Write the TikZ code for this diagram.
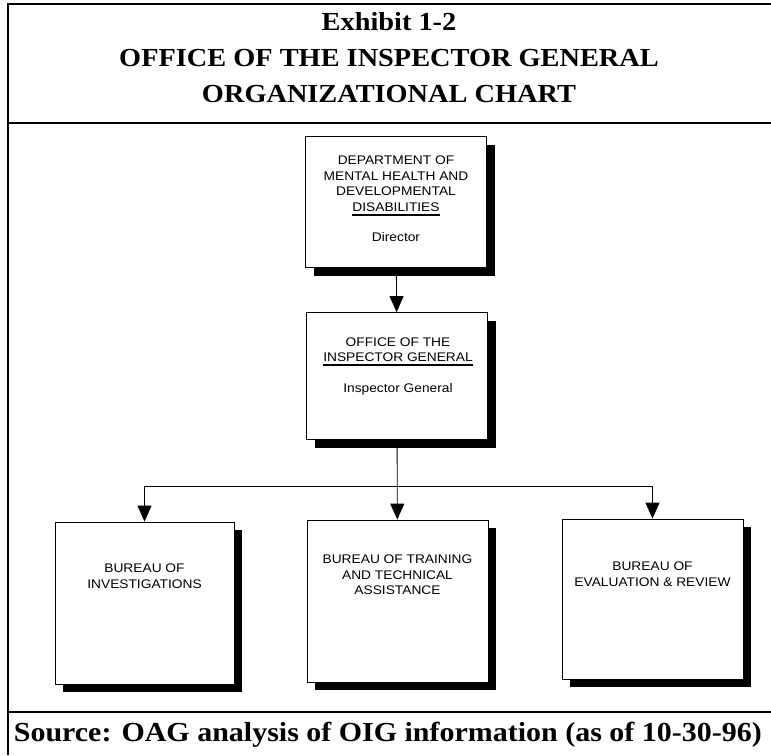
\documentclass[tikz,border=0pt]{standalone}
\usepackage{fontspec}
\setmainfont{Liberation Serif}
\setsansfont{Liberation Sans}
\usetikzlibrary{arrows.meta}
\usetikzlibrary{shadows}
\usetikzlibrary{calc}

% thick rule under one line of a box text
\newcommand{\barline}[1]{\vtop{\hbox{#1}\kern2.5pt\hrule height 1.6pt}}

\begin{document}
\begin{tikzpicture}[x=1pt, y=-1pt,
  unitbox/.style={draw=black, line width=0.8pt, fill=white, minimum width=181pt, drop shadow={shadow xshift=8pt, shadow yshift=-8pt, fill=black, opacity=1}},
  unittext/.style={align=center, xscale=1.1, font=\sffamily\fontsize{12.5}{15.5}\selectfont},
  frameline/.style={line width=1.6pt},
  link/.style={line width=0.9pt, -{Triangle[width=14pt, length=16pt]}}]

\useasboundingbox (0,0) rectangle (771,755);

% frame
\draw[frameline] (771,4) -- (8,4) -- (8,755);
\draw[frameline] (8,123) -- (771,123);
\draw[frameline] (8,712) -- (771,712);

\node[align=center, xscale=1.09, font=\bfseries\fontsize{26}{36}\selectfont] (title) at (389,58) {Exhibit 1-2\\OFFICE OF THE INSPECTOR GENERAL\\ORGANIZATIONAL CHART};

\node[anchor=west, xscale=1.09, font=\bfseries\fontsize{27.5}{30}\selectfont] (source) at (10,735) {Source: OAG analysis of OIG information (as of 10-30-96)};

% boxes
\node[unitbox, minimum height=131pt] (dept) at (396,202) {};
\node[unittext] (depttext) at (396,199) {DEPARTMENT OF\\MENTAL HEALTH AND\\DEVELOPMENTAL\\\barline{DISABILITIES}\\[15pt]Director};

\node[unitbox, minimum height=127pt] (oig) at (397,376) {};
\node[unittext] (oigtext) at (398,366) {OFFICE OF THE\\\barline{INSPECTOR GENERAL}\\[15pt]Inspector General};

\node[unitbox, minimum width=179pt, minimum height=162pt] (invest) at (144.5,603) {};
\node[unittext] (investtext) at (144.5,576) {BUREAU OF\\INVESTIGATIONS};

\node[unitbox, minimum height=162pt] (training) at (397.5,601) {};
\node[unittext] (trainingtext) at (397.5,575) {BUREAU OF TRAINING\\AND TECHNICAL\\ASSISTANCE};

\node[unitbox, minimum height=160pt] (review) at (652.5,599) {};
\node[unittext] (reviewtext) at (652.5,574) {BUREAU OF\\EVALUATION \& REVIEW};

% connectors
\coordinate (split) at (397,486);
\draw[link] (dept) -- (oig);
\draw[link] (oig) -- (training);
\draw[line width=0.9pt] (split -| invest.north) -- (split -| review.north);
\draw[link] (split -| invest.north) -- (invest.north);
\draw[link] (split -| review.north) -- (review.north);

\end{tikzpicture}
\end{document}
